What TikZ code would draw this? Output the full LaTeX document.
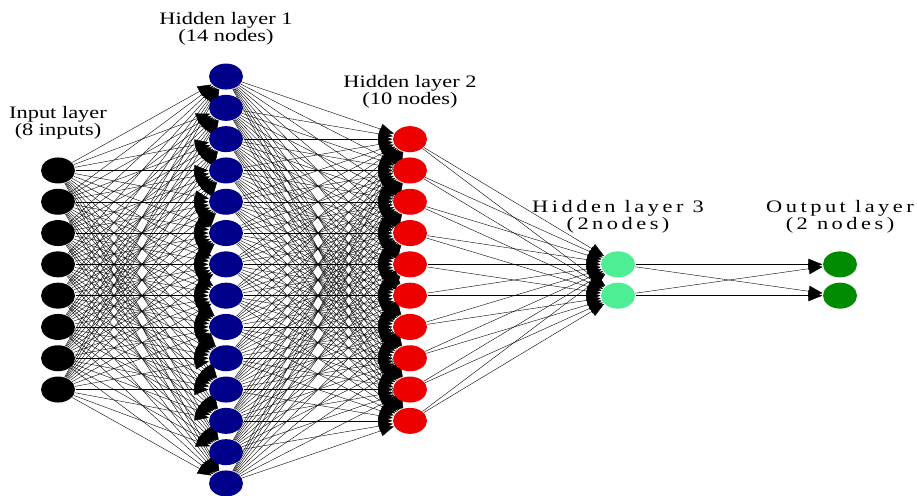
\documentclass[tikz,border=0pt]{standalone}
\usepackage{fontspec}
\setmainfont{Liberation Serif}[FakeStretch=1.28]
\usepackage{tikz}
\usetikzlibrary{shapes,arrows.meta,positioning,backgrounds}
\definecolor{navyblue}{RGB}{0,0,139}
\definecolor{brightred}{RGB}{238,0,0}
\definecolor{seagreen}{RGB}{78,238,148}
\definecolor{darkgreen}{RGB}{0,139,0}
% one column of neurons: name, x, count, colour
\newcommand{\tikzLayer}[4]{
  \foreach \i in {1,...,#3}
    \node[neuron,fill=#4] (#1\i) at (#2,{280+(\i-(#3+1)/2)*31.3}) {};
}
% every neuron of one layer to every neuron of the next
\newcommand{\tikzConnect}[4]{
  \foreach \i in {1,...,#2}
    \foreach \j in {1,...,#4}
      \path (#1\i) edge (#3\j);
}

\begin{document}
\begin{tikzpicture}[x=1pt,y=-1pt,line width=1.2pt,-{Triangle[length=14pt,width=11pt]},
    neuron/.style={ellipse,minimum width=34pt,minimum height=26pt,inner sep=0pt},
    layerlabel/.style={align=center,inner sep=0pt,font=\fontsize{17.5}{15}\selectfont},
    widelabel/.style={layerlabel,font={\fontsize{17.5}{15}\selectfont\addfontfeature{LetterSpace=20}}}]
  \useasboundingbox (0,0) rectangle (917,495);
  \tikzLayer{in}{58}{8}{black}
  \tikzLayer{ha}{226}{14}{navyblue}
  \tikzLayer{hb}{410}{10}{brightred}
  \tikzLayer{hc}{618}{2}{seagreen}
  \tikzLayer{out}{840}{2}{darkgreen}
  \begin{scope}[on background layer]
    \tikzConnect{in}{8}{ha}{14}
    \tikzConnect{ha}{14}{hb}{10}
    \tikzConnect{hb}{10}{hc}{2}
    \tikzConnect{hc}{2}{out}{2}
  \end{scope}
  \node[layerlabel,above=17pt of in1] (inlabel) {Input layer\\(8 inputs)};
  \node[layerlabel,above=17pt of ha1] (halabel) {Hidden layer 1\\(14 nodes)};
  \node[layerlabel,above=17pt of hb1] (hblabel) {Hidden layer 2\\(10 nodes)};
  \node[widelabel,above=17pt of hc1] (hclabel) {Hidden layer 3\\(2nodes)};
  \node[widelabel,above=17pt of out1] (outlabel) {Output layer\\(2 nodes)};
\end{tikzpicture}
\end{document}
